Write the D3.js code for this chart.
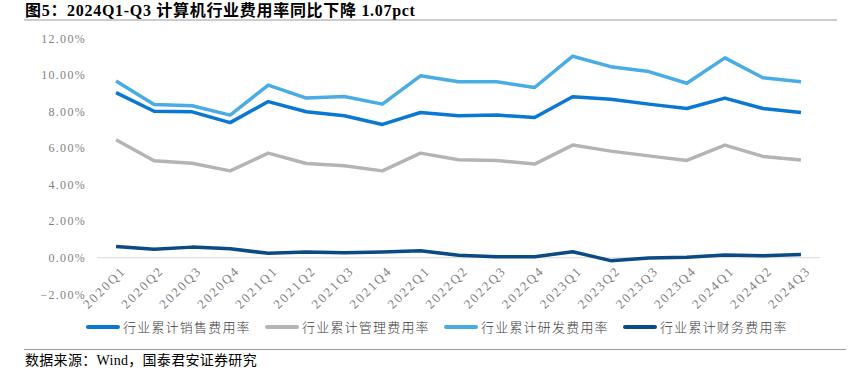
<!DOCTYPE html>
<html>
<head>
<meta charset="utf-8">
<script src="https://cdn.jsdelivr.net/npm/d3@7"></script>
<style>
  body { margin: 0; background: #fff; }
  svg { display: block; }
</style>
</head>
<body>
<div id="chart"></div>
<script>
// Data
const quarters = ["2020Q1", "2020Q2", "2020Q3", "2020Q4", "2021Q1", "2021Q2", "2021Q3", "2021Q4",
  "2022Q1", "2022Q2", "2022Q3", "2022Q4", "2023Q1", "2023Q2", "2023Q3", "2023Q4",
  "2024Q1", "2024Q2", "2024Q3"];
const sales = [9.03, 8.01, 7.98, 7.39, 8.54, 7.98, 7.76, 7.29, 7.94, 7.76, 7.80, 7.67, 8.80, 8.67, 8.40, 8.16, 8.73, 8.16, 7.94];
const admin = [6.45, 5.30, 5.17, 4.75, 5.72, 5.15, 5.03, 4.75, 5.72, 5.36, 5.32, 5.12, 6.16, 5.83, 5.57, 5.32, 6.16, 5.54, 5.34];
const rnd = [9.67, 8.38, 8.31, 7.80, 9.44, 8.73, 8.82, 8.40, 9.95, 9.62, 9.62, 9.31, 11.02, 10.45, 10.18, 9.54, 10.93, 9.84, 9.62];
const finance = [0.62, 0.47, 0.58, 0.49, 0.24, 0.31, 0.27, 0.31, 0.38, 0.13, 0.05, 0.05, 0.33, -0.16, -0.01, 0.02, 0.15, 0.11, 0.18];
const seriesNames = ["行业累计销售费用率", "行业累计管理费用率", "行业累计研发费用率", "行业累计财务费用率"];
const yTicks = [-2, 0, 2, 4, 6, 8, 10, 12];

const colors = ["#0a78d2", "#b4b4b4", "#4aace4", "#0b4a84"];
const series = [sales, admin, rnd, finance];

const W = 859, H = 383;
const svg = d3.select("#chart").append("svg")
  .attr("width", W)
  .attr("height", H);

const serif = "'Liberation Serif', 'Times New Roman', 'Noto Sans CJK SC', serif";

// Title
svg.append("text")
  .attr("x", 25)
  .attr("y", 16)
  .attr("font-family", serif)
  .attr("font-weight", "bold")
  .attr("font-size", 16)
  .attr("letter-spacing", 0.7)
  .attr("fill", "#000")
  .text("图5：2024Q1-Q3 计算机行业费用率同比下降 1.07pct");

svg.append("line")
  .attr("x1", 24).attr("x2", 837)
  .attr("y1", 20).attr("y2", 20)
  .attr("stroke", "#9a9a9a")
  .attr("stroke-width", 1);

// Scales
const x = d3.scaleBand().domain(quarters).range([97, 820]);
const y = d3.scaleLinear().domain([-2, 12]).range([294.3, 38.3]);
const cx = d => x(d) + x.bandwidth() / 2;

// Y axis labels
svg.append("g")
  .selectAll("text")
  .data(yTicks)
  .enter()
  .append("text")
  .attr("x", 86)
  .attr("y", d => y(d))
  .attr("dy", "0.35em")
  .attr("text-anchor", "end")
  .attr("font-family", serif)
  .attr("font-size", 12)
  .attr("letter-spacing", 1.3)
  .attr("fill", "#7f7f7f")
  .text(d => d3.format(".2f")(d) + "%");

// Zero line
svg.append("line")
  .attr("x1", 97).attr("x2", 820)
  .attr("y1", y(0)).attr("y2", y(0))
  .attr("stroke", "#d9d9d9")
  .attr("stroke-width", 1);

// X axis labels
svg.append("g")
  .selectAll("text")
  .data(quarters)
  .enter()
  .append("text")
  .attr("text-anchor", "end")
  .attr("transform", d => "translate(" + (cx(d) + 4) + "," + 265 + ")rotate(-45)")
  .attr("dy", "0.7em")
  .attr("font-family", serif)
  .attr("font-size", 13)
  .attr("letter-spacing", 2)
  .attr("fill", "#7f7f7f")
  .text(d => d);

// Lines
const line = d3.line()
  .x((d, i) => cx(quarters[i]))
  .y(d => y(d));

svg.append("g")
  .selectAll("path")
  .data(series)
  .enter()
  .append("path")
  .attr("d", d => line(d))
  .attr("fill", "none")
  .attr("stroke", (d, i) => colors[i])
  .attr("stroke-width", 3.5)
  .attr("stroke-linejoin", "round");

// Legend
const legendX = [87, 266, 445, 624];
const legend = svg.append("g")
  .selectAll("g")
  .data(seriesNames)
  .enter()
  .append("g")
  .attr("transform", (d, i) => "translate(" + legendX[i] + ",327)");

legend.append("line")
  .attr("x1", 1).attr("x2", 31)
  .attr("y1", 0).attr("y2", 0)
  .attr("stroke", (d, i) => colors[i])
  .attr("stroke-width", 4)
  .attr("stroke-linecap", "round");

legend.append("text")
  .attr("x", 36)
  .attr("y", 0)
  .attr("dy", "0.36em")
  .attr("font-family", "'Noto Sans CJK SC', sans-serif")
  .attr("font-weight", 300)
  .attr("font-size", 13)
  .attr("letter-spacing", 1.2)
  .attr("fill", "#404040")
  .text(d => d);

// Footer
svg.append("line")
  .attr("x1", 24).attr("x2", 846)
  .attr("y1", 349.5).attr("y2", 349.5)
  .attr("stroke", "#9a9a9a")
  .attr("stroke-width", 1);

svg.append("text")
  .attr("x", 25)
  .attr("y", 365)
  .attr("font-family", serif)
  .attr("font-size", 14)
  .attr("letter-spacing", 0.3)
  .attr("fill", "#000")
  .text("数据来源：Wind，国泰君安证券研究");
</script>
</body>
</html>
